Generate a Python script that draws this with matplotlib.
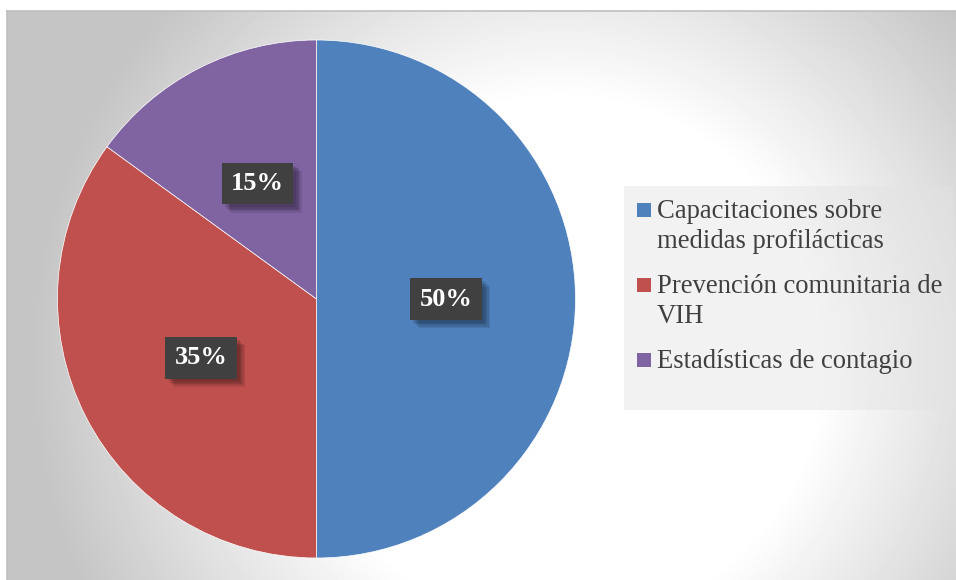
import numpy as np
import matplotlib.pyplot as plt
import matplotlib.patheffects as pe
from matplotlib.patches import Rectangle

# Data
categories = [
    ["Capacitaciones sobre", "medidas profilácticas"],
    ["Prevención comunitaria de", "VIH"],
    ["Estadísticas de contagio"],
]
values = [50, 35, 15]
colors = ["#4F81BD", "#C0504D", "#8064A2"]

W, H = 956, 580
fig = plt.figure(figsize=(W / 100, H / 100), dpi=100)

# background layer in pixel coordinates
bg = fig.add_axes([0, 0, 1, 1])
bg.set_xlim(0, W)
bg.set_ylim(H, 0)
bg.axis("off")

# radial grey gradient inside the chart frame
x0, y0 = 7, 11
xs = np.arange(x0, W) + 0.5
ys = np.arange(y0, H) + 0.5
gx, gy = np.meshgrid(xs, ys)
d = np.hypot(gx - 560, gy - 360)
t = np.clip((d - 260) / 270, 0, 1)
grad = 1 - 0.23 * t
bg.imshow(grad, extent=(x0, W, H, y0), cmap="gray", vmin=0, vmax=1,
          interpolation="bilinear", aspect="auto")
bg.plot([x0, x0], [H, y0], color="#bfbfbf", lw=1.2)
bg.plot([x0, W], [y0, y0], color="#bfbfbf", lw=1.2)

# legend box
bg.add_patch(Rectangle((624, 186), 329, 224, facecolor="#e3e3e3",
                       edgecolor="none", alpha=0.45))
base = 218
for lines, col in zip(categories, colors):
    bg.add_patch(Rectangle((637, base - 15), 14, 14, facecolor=col, edgecolor="none"))
    for i, line in enumerate(lines):
        bg.text(657, base + 30 * i, line, fontsize=19.2, family="Liberation Serif",
                color="#404040", va="baseline", ha="left")
    base += 30 * (len(lines) - 1) + 45

# pie
cx, cy, r = 316.5, 299, 259
ax = fig.add_axes([(cx - r) / W, (H - cy - r) / H, 2 * r / W, 2 * r / H])
wedges, texts, autotexts = ax.pie(
    values, colors=colors, startangle=90, counterclock=False,
    autopct=lambda p: f"{p:.0f}%", pctdistance=0.5,
    wedgeprops=dict(edgecolor="white", linewidth=0.5),
    textprops=dict(color="white", fontsize=19, fontweight="bold",
                   family="Liberation Serif"))
ax.set_xlim(-1, 1)
ax.set_ylim(-1, 1)
ax.set_aspect("auto")

# dark label boxes with a soft drop shadow
shadow = [pe.SimplePatchShadow(offset=(o, -o), shadow_rgbFace="black", alpha=0.09)
          for o in (6, 5, 4, 3, 2)]
for t_ in autotexts:
    t_.set_bbox(dict(boxstyle="square,pad=0.35", facecolor="#404040",
                     edgecolor="none", linewidth=0))
    t_.get_bbox_patch().set_path_effects(shadow + [pe.Normal()])

fig.savefig("out.png", dpi=100)
